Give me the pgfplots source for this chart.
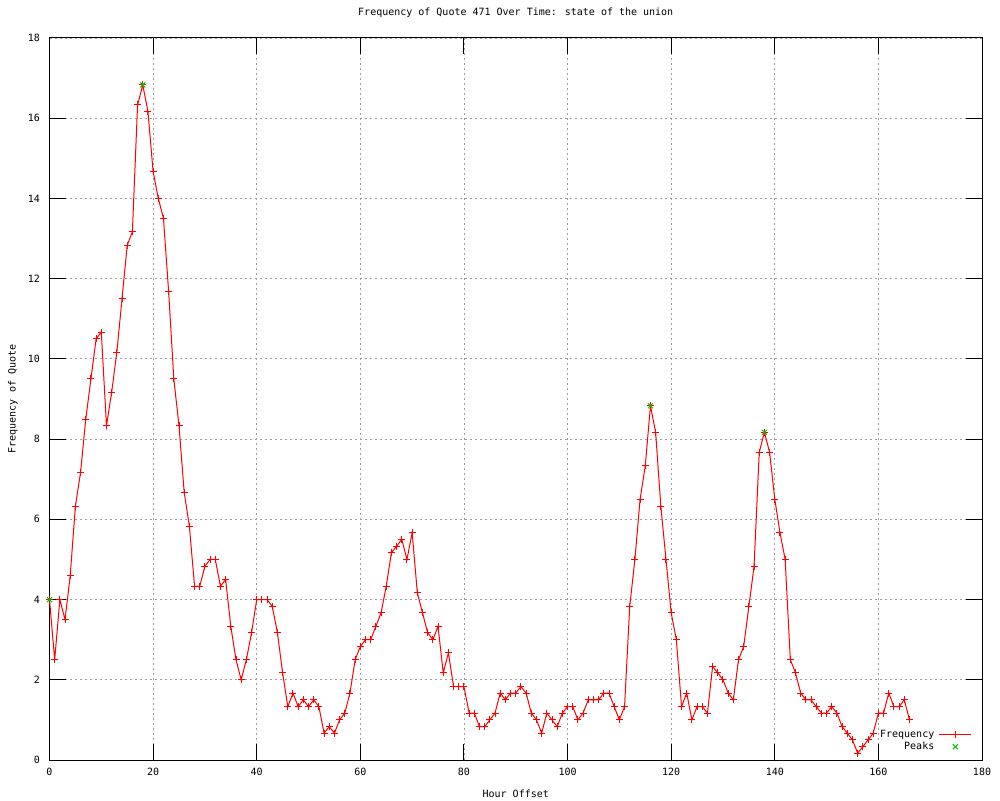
\documentclass[border=0pt]{standalone}
\usepackage{fontspec}
\setmainfont{DejaVu Sans Mono}
\usepackage{pgfplots}
\pgfplotsset{compat=1.18}

\definecolor{gpred}{RGB}{255,0,0}
\definecolor{gpgreen}{RGB}{0,192,0}

\begin{document}
\begin{tikzpicture}
\begin{axis}[
    scale only axis,
    width=932.5pt, height=722pt,
    xmin=0, xmax=180, ymin=0, ymax=18,
    xtick={0,20,...,180},
    ytick={0,2,...,18},
    clip=false,
    axis line style={black, line width=1pt},
    tick align=inside,
    major tick length=16pt,
    every tick/.style={black, line width=1pt},
    grid=major,
    grid style={gray!75, line width=0.8pt, dash pattern=on 2pt off 3pt},
    /pgf/number format/assume math mode=true,
    tick label style={font=\fontsize{10}{12}\selectfont},
    xticklabel style={yshift=-5pt},
    yticklabel style={xshift=-6pt},
    title={Frequency of Quote 471 Over Time: state of the union},
    title style={at={(axis description cs:0.5,1)}, anchor=base, yshift=16pt,
        font=\fontsize{10}{12}\selectfont},
    xlabel={Hour Offset},
    xlabel style={at={(axis description cs:0.5,0)}, anchor=base, yshift=-37pt,
        font=\fontsize{10}{12}\selectfont},
    ylabel={Frequency of Quote},
    ylabel style={at={([xshift=-36.5pt]axis description cs:0,0.5)}, anchor=center,
        font=\fontsize{10}{12}\selectfont},
    legend plot pos=right,
    legend cell align=right,
    legend image code/.code={\draw[mark repeat=2,mark phase=2,#1]
        plot coordinates {(0pt,0pt)(16pt,0pt)(32pt,0pt)};},
    legend style={at={([xshift=-10pt,yshift=7pt]axis description cs:1,0)},
        anchor=south east, draw=none, fill=none, inner sep=0pt,
        font=\fontsize{10}{12}\selectfont,
        nodes={inner sep=1.5pt}, row sep=0pt,
        /tikz/column sep=3pt},
]
\addplot[gpred, line width=1pt, mark=+, mark size=3.5pt,
    mark options={line width=1pt}]
coordinates {
(0,4) (1,2.5) (2,4) (3,3.5) (4,4.6) (5,6.33) (6,7.17) (7,8.5) (8,9.5) (9,10.5)
(10,10.67) (11,8.33) (12,9.17) (13,10.17) (14,11.5) (15,12.83) (16,13.17) (17,16.33) (18,16.83) (19,16.17)
(20,14.67) (21,14) (22,13.5) (23,11.67) (24,9.5) (25,8.33) (26,6.67) (27,5.83) (28,4.33) (29,4.33)
(30,4.83) (31,5) (32,5) (33,4.33) (34,4.5) (35,3.33) (36,2.5) (37,2) (38,2.5) (39,3.17)
(40,4) (41,4) (42,4) (43,3.83) (44,3.17) (45,2.17) (46,1.33) (47,1.67) (48,1.33) (49,1.5)
(50,1.33) (51,1.5) (52,1.33) (53,0.67) (54,0.83) (55,0.67) (56,1) (57,1.17) (58,1.67) (59,2.5)
(60,2.83) (61,3) (62,3) (63,3.33) (64,3.67) (65,4.33) (66,5.17) (67,5.33) (68,5.5) (69,5)
(70,5.67) (71,4.17) (72,3.67) (73,3.17) (74,3) (75,3.33) (76,2.17) (77,2.67) (78,1.83) (79,1.83)
(80,1.83) (81,1.17) (82,1.17) (83,0.83) (84,0.83) (85,1) (86,1.17) (87,1.67) (88,1.5) (89,1.67)
(90,1.67) (91,1.83) (92,1.67) (93,1.17) (94,1) (95,0.67) (96,1.17) (97,1) (98,0.83) (99,1.17)
(100,1.33) (101,1.33) (102,1) (103,1.17) (104,1.5) (105,1.5) (106,1.5) (107,1.67) (108,1.67) (109,1.33)
(110,1) (111,1.33) (112,3.83) (113,5) (114,6.5) (115,7.33) (116,8.83) (117,8.17) (118,6.33) (119,5)
(120,3.67) (121,3) (122,1.33) (123,1.67) (124,1) (125,1.33) (126,1.33) (127,1.17) (128,2.33) (129,2.17)
(130,2) (131,1.67) (132,1.5) (133,2.5) (134,2.83) (135,3.83) (136,4.83) (137,7.67) (138,8.17) (139,7.67)
(140,6.5) (141,5.67) (142,5) (143,2.5) (144,2.17) (145,1.67) (146,1.5) (147,1.5) (148,1.33) (149,1.17)
(150,1.17) (151,1.33) (152,1.17) (153,0.83) (154,0.67) (155,0.5) (156,0.17) (157,0.33) (158,0.5) (159,0.67)
(160,1.17) (161,1.17) (162,1.67) (163,1.33) (164,1.33) (165,1.5) (166,1)
};
\addlegendentry{Frequency}
\addplot[gpgreen, only marks, mark=x, mark size=3.5pt,
    mark options={line width=1pt}]
coordinates {(0,4) (18,16.83) (116,8.83) (138,8.17)};
\addlegendentry{Peaks}
\end{axis}
\path ([shift={(-49.5pt,-40pt)}]current axis.south west)
    rectangle ([shift={(18pt,38pt)}]current axis.north east);
\end{tikzpicture}
\end{document}
